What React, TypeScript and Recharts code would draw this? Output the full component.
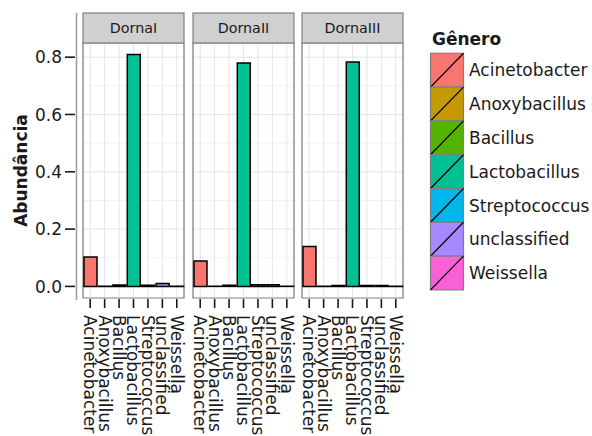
import React from 'react';
import { BarChart, Bar, XAxis, YAxis, CartesianGrid, Cell, ReferenceArea, Legend } from 'recharts';

const GENERA = ['Acinetobacter', 'Anoxybacillus', 'Bacillus', 'Lactobacillus', 'Streptococcus', 'unclassified', 'Weissella'];
const COLORS = ['#F8766D', '#C49A00', '#53B400', '#00C094', '#00B6EB', '#A58AFF', '#FB61D7'];
const PANELS = ['DornaI', 'DornaII', 'DornaIII'];
const DORNA_I = [0.103, 0.0005, 0.005, 0.809, 0.004, 0.01, 0.0005];
const DORNA_II = [0.089, 0.0005, 0.004, 0.78, 0.006, 0.006, 0.0005];
const DORNA_III = [0.139, 0.0005, 0.003, 0.783, 0.003, 0.003, 0.0005];
const Y_TICKS = [0, 0.2, 0.4, 0.6, 0.8];
const Y_MINOR = [0.1, 0.3, 0.5, 0.7];
const Y_DOMAIN = [-0.0405, 0.8495];
const Y_TITLE = 'Abundância';
const LEGEND_TITLE = 'Gênero';

const FONT = "'DejaVu Sans', sans-serif";
const TXT = '#1a1a1a';

const XTick = (props: any) => {
  const { x, y, payload } = props;
  const ty = y + 17;
  return (
    <g>
      <line x1={x} x2={x} y1={y + 1} y2={y + 10} stroke={TXT} strokeWidth={1.6} />
      <text x={x} y={ty} transform={`rotate(90, ${x}, ${ty})`} textAnchor="start" dy="0.36em"
        fontSize={17} fill={TXT} fontFamily={FONT}>{payload.value}</text>
    </g>
  );
};

const YTick = (props: any) => {
  const { x, y, payload } = props;
  return (
    <g>
      <line x1={x - 18} x2={x - 8} y1={y} y2={y} stroke={TXT} strokeWidth={1.6} />
      <text x={x - 21} y={y} textAnchor="end" dy="0.36em" fontSize={17} fill={TXT} fontFamily={FONT}>
        {Number(payload.value).toFixed(1)}
      </text>
    </g>
  );
};

const YTitle = (props: any) => {
  const vb = props.viewBox || props;
  const cx = vb.x + 27;
  const cy = vb.y + vb.height / 2;
  const lx = vb.x + vb.width - 6.5;
  return (
    <g>
      <line x1={lx} x2={lx} y1={vb.y - 30} y2={vb.y + vb.height + 2} stroke="#9a9a9a" strokeWidth={1.5} />
      <text x={cx} y={cy} transform={`rotate(-90, ${cx}, ${cy})`} textAnchor="middle" fontWeight="bold"
        fontSize={17} fill={TXT} fontFamily={FONT}>{Y_TITLE}</text>
    </g>
  );
};

const makeStrip = (title: string) => (props: any) => {
  const vb = props.viewBox || props;
  return (
    <g>
      <rect x={vb.x} y={vb.y} width={vb.width} height={vb.height} fill="#D0D0D0" stroke="#808080" strokeWidth={1.2} />
      <text x={vb.x + vb.width / 2} y={vb.y + vb.height / 2} dy="0.36em" textAnchor="middle" fontSize={14.3}
        fill={TXT} fontFamily={FONT}>{title}</text>
    </g>
  );
};

const LegendBox = () => (
  <svg width={162} height={275} style={{ display: 'block', overflow: 'visible' }}>
    <text x={2} y={25} fontWeight="bold" fontSize={17} fill={TXT} fontFamily={FONT}>{LEGEND_TITLE}</text>
    {GENERA.map((g, i) => {
      const y = 33.3 + i * 33.8;
      return (
        <g key={g}>
          <rect x={0.5} y={y} width={33} height={33.8} fill={COLORS[i]} stroke="#7f7f7f" strokeWidth={1.2} />
          <line x1={0.5} y1={y + 33.8} x2={33.5} y2={y} stroke="#000" strokeWidth={1.3} />
          <text x={39} y={y + 16.9} dy="0.36em" fontSize={17} fill={TXT} fontFamily={FONT}>{g}</text>
        </g>
      );
    })}
  </svg>
);

type PanelProps = {
  title: string;
  values: number[];
  left: number;
  width: number;
  marginLeft: number;
  marginRight: number;
  first?: boolean;
  legend?: boolean;
};

const Panel = ({ title, values, left, width, marginLeft, marginRight, first, legend }: PanelProps) => {
  const data = GENERA.map((g, i) => ({ genus: g, value: values[i] }));
  return (
    <div style={{ position: 'absolute', left, top: 0 }}>
      <BarChart width={width} height={436} data={data} margin={{ top: 13, right: marginRight, bottom: 0, left: marginLeft }}>
        <CartesianGrid horizontalValues={Y_MINOR} vertical={false} stroke="#F2F2F2" strokeWidth={1} />
        <CartesianGrid horizontalValues={Y_TICKS} stroke="#E5E5E5" strokeWidth={1} />
        <XAxis dataKey="genus" interval={0} axisLine={false} tickLine={false} tickSize={0} tickMargin={0}
          height={138} tick={<XTick />} />
        <XAxis xAxisId="strip" dataKey="genus" orientation="top" height={30} tick={false} tickLine={false}
          axisLine={false} label={makeStrip(title)} />
        <YAxis type="number" domain={Y_DOMAIN} allowDataOverflow ticks={Y_TICKS} hide={!first} width={83}
          axisLine={false} tickLine={false} tickSize={0} tickMargin={0} tick={<YTick />}
          label={first ? YTitle : undefined} />
        <Bar dataKey="value" barSize={13} stroke="#000" strokeWidth={1.5} isAnimationActive={false}>
          {data.map((d, i) => <Cell key={d.genus} fill={COLORS[i]} />)}
        </Bar>
        <ReferenceArea y1={Y_DOMAIN[0]} y2={Y_DOMAIN[1]} fill="none" stroke="#7f7f7f" strokeWidth={1.2} ifOverflow="visible" />
        {legend && (
          <Legend layout="vertical" align="center" verticalAlign="middle"
            wrapperStyle={{ left: 138, top: 20, width: 162, height: 275 }} content={() => <LegendBox />} />
        )}
      </BarChart>
    </div>
  );
};

export default function App() {
  return (
    <div style={{ position: 'absolute', left: 0, top: 0, width: 592, height: 436, background: '#fff', fontFamily: FONT, overflow: 'hidden' }}>
      <Panel title={PANELS[0]} values={DORNA_I} left={0} width={201} marginLeft={0} marginRight={17} first />
      <Panel title={PANELS[1]} values={DORNA_II} left={183} width={130} marginLeft={10} marginRight={19} />
      <Panel title={PANELS[2]} values={DORNA_III} left={292} width={300} marginLeft={10} marginRight={189} legend />
    </div>
  );
}
